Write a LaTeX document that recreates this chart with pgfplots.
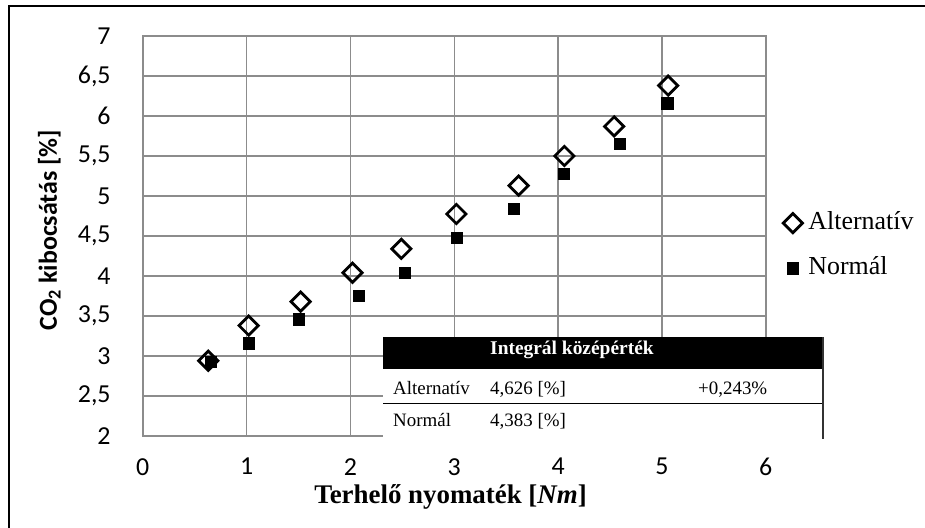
\documentclass[border=0pt]{standalone}
\usepackage{pgfplots}
\pgfplotsset{compat=1.18}
\usepackage{fontspec}
\setmainfont{Liberation Serif}
\newfontfamily\calibri{Carlito}
\definecolor{gridgray}{RGB}{140,140,140}
\begin{document}
\begin{tikzpicture}
\useasboundingbox (0bp,0bp) rectangle (925bp,528bp);
\begin{axis}[
  at={(142.8bp,92bp)}, anchor=south west,
  width=623bp, height=400bp, scale only axis,
  xmin=0, xmax=6, ymin=2, ymax=7,
  xtick={0,1,2,3,4,5,6},
  ytick={2,2.5,3,3.5,4,4.5,5,5.5,6,6.5,7},
  major tick length=0pt,
  grid=major,
  major grid style={line width=1.5bp, draw=gridgray},
  axis line style={line width=1.5bp, draw=gridgray},
  /pgf/number format/.cd, use comma, assume math mode=true,
  /pgfplots/.cd,
  tick label style={font=\calibri\fontsize{26}{30}\selectfont},
  yticklabel style={inner sep=0pt, anchor=east, xshift=-32bp},
  xticklabel style={inner sep=0pt, anchor=north, yshift=-22bp},
  ylabel={\calibri\bfseries CO\textsubscript{2} kibocsátás [\%]},
  ylabel style={at={(axis description cs:-0.150,0.515)}, anchor=center, rotate=0, font=\fontsize{26}{30}\selectfont},
  xlabel={\textbf{Terhelő nyomaték [\textbf{\textit{Nm}}]}},
  xlabel style={at={(axis description cs:0.4939,-0.1525)}, anchor=center, font=\fontsize{27}{31}\selectfont},
  legend style={draw=none, fill=none, at={(axis description cs:1.0276,0.476)}, anchor=west,
    font=\fontsize{26}{30}\selectfont, inner sep=0pt, row sep=19bp,
    nodes={inner sep=1bp, text height=18bp, text depth=6bp},
    /tikz/every odd column/.append style={column sep=5bp}},
  legend cell align=left,
  legend image code/.code={\draw[#1] plot coordinates {(0bp,0bp)};},
  clip=false,
]
\addplot[only marks, mark=square, mark size=6.8bp, mark options={rotate=45, line width=2.8bp, draw=black, fill=none}]
coordinates {
(0.63,2.94) (1.02,3.38) (1.52,3.68) (2.02,4.04) (2.49,4.34)
(3.02,4.775) (3.62,5.13) (4.06,5.50) (4.54,5.87) (5.06,6.38)
};
\addlegendentry{Alternatív}
\addplot[only marks, mark=square*, mark size=5.6bp, mark options={draw=black, fill=black, line width=0.3bp}]
coordinates {
(0.65,2.93) (1.02,3.16) (1.50,3.46) (2.08,3.75) (2.52,4.04)
(3.02,4.475) (3.57,4.845) (4.05,5.28) (4.59,5.65) (5.05,6.16)
};
\addlegendentry{Normál}
\end{axis}
% integral table overlay
\fill[white] (383bp,89bp) rectangle (823bp,191bp);
\fill[black] (383bp,159bp) rectangle (823bp,191bp);
\draw[black, line width=1bp] (383bp,124bp) -- (823bp,124bp);
\draw[black!80, line width=1.5bp] (823bp,89bp) -- (823bp,191bp);
\node[anchor=base west, inner sep=0pt, text=white, font=\fontsize{19.5}{23}\selectfont\bfseries] at (490bp,173bp) {Integrál középérték};
\node[anchor=base west, inner sep=0pt, font=\fontsize{19}{23}\selectfont] at (393bp,133bp) {Alternatív};
\node[anchor=base west, inner sep=0pt, font=\fontsize{19}{23}\selectfont] at (490bp,133bp) {4,626 [\%]};
\node[anchor=base west, inner sep=0pt, font=\fontsize{19}{23}\selectfont] at (698bp,133bp) {+0,243\%};
\node[anchor=base west, inner sep=0pt, font=\fontsize{19}{23}\selectfont] at (393bp,101bp) {Normál};
\node[anchor=base west, inner sep=0pt, font=\fontsize{19}{23}\selectfont] at (490bp,101bp) {4,383 [\%]};
% outer frame (left and top)
\draw[black, line width=2bp] (9bp,0bp) -- (9bp,522bp) -- (925bp,522bp);
\end{tikzpicture}
\end{document}
